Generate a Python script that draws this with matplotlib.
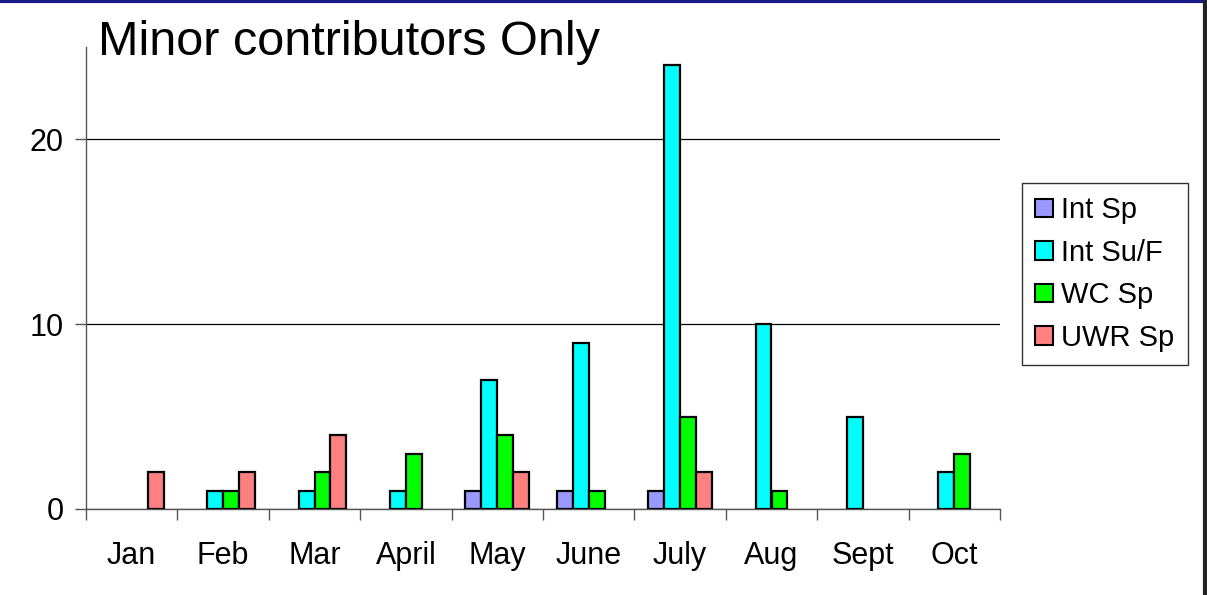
import matplotlib.pyplot as plt
import numpy as np
from matplotlib.lines import Line2D

plt.rcParams['font.family'] = ['Liberation Sans', 'DejaVu Sans']

months = ['Jan', 'Feb', 'Mar', 'April', 'May', 'June', 'July', 'Aug', 'Sept', 'Oct']
int_sp = [0, 0, 0, 0, 1, 1, 1, 0, 0, 0]
int_suf = [0, 1, 1, 1, 7, 9, 24, 10, 5, 2]
wc_sp = [0, 1, 2, 3, 4, 1, 5, 1, 0, 3]
uwr_sp = [2, 2, 4, 0, 2, 0, 2, 0, 0, 0]

series = [('Int Sp', int_sp, '#9999FF'),
          ('Int Su/F', int_suf, '#00FFFF'),
          ('WC Sp', wc_sp, '#00FF00'),
          ('UWR Sp', uwr_sp, '#FF8080')]

fig = plt.figure(figsize=(12.07, 5.95), dpi=100)
ax = fig.add_axes([86 / 1207, 1 - 509 / 595, 914 / 1207, 462 / 595])

x = np.arange(len(months))
w = 0.175
handles = []
for i, (name, vals, col) in enumerate(series):
    pos = x + (i - 1.5) * w
    vals = np.array(vals, dtype=float)
    mask = vals > 0
    ax.bar(pos[mask], vals[mask], width=w, color=col, edgecolor='black',
           linewidth=1.6, zorder=3)
    handles.append(plt.Rectangle((0, 0), 1, 1, facecolor=col, edgecolor='black', linewidth=1.5))

ax.set_xlim(-0.5, len(months) - 0.5)
ax.set_ylim(0, 25)
ax.set_yticks([0, 10, 20])
ax.yaxis.grid(True, color='black', linewidth=0.9, zorder=0)
ax.set_axisbelow(True)

ax.set_xticks(np.arange(len(months) + 1) - 0.5)
ax.set_xticklabels([])
ax.set_xticks(x, minor=True)
ax.set_xticklabels(months, minor=True, fontsize=22)
ax.tick_params(axis='x', which='minor', length=0, pad=23)
ax.tick_params(axis='x', which='major', length=8, width=1, color='#555555', direction='out')
ax.tick_params(axis='y', length=8, width=1, color='#555555', labelsize=22, pad=8)

for s in ['top', 'right']:
    ax.spines[s].set_visible(False)
for s in ['left', 'bottom']:
    ax.spines[s].set_color('#555555')
    ax.spines[s].set_linewidth(1)

fig.text(98 / 1207, 1 - 55 / 595, 'Minor contributors Only', fontsize=35, ha='left', va='baseline')

leg = fig.legend(handles, [s[0] for s in series], loc='upper left',
                 bbox_to_anchor=(1022 / 1207, 1 - 183 / 595), fontsize=21,
                 frameon=True, fancybox=False, edgecolor='black',
                 handlelength=0.6, handleheight=0.6, handletextpad=0.3,
                 labelspacing=0.5, borderpad=0.45, borderaxespad=0)
leg.get_frame().set_linewidth(1)

fig.add_artist(Line2D([0, 1], [0.998, 0.998], color='#1a1a8c', linewidth=3, transform=fig.transFigure))
fig.add_artist(Line2D([0.998, 0.998], [0, 1], color='#222222', linewidth=3, transform=fig.transFigure))

fig.savefig('out.png', dpi=100)
